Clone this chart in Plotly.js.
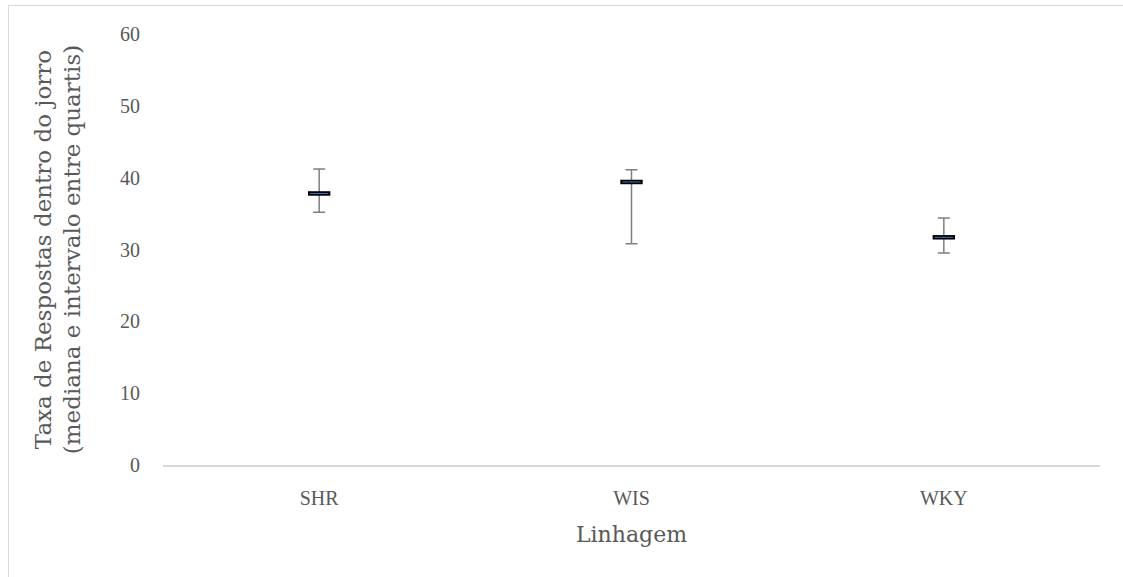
<!DOCTYPE html>
<html>
<head>
<meta charset="utf-8">
<script src="https://cdn.plot.ly/plotly-3.0.1.min.js"></script>
<style>
  html, body { margin: 0; padding: 0; background: #fff; }
  #wrap { position: relative; width: 1123px; height: 577px; }
  #chart { position: absolute; left: 0; top: 0; width: 1123px; height: 577px; }
  #frame { position: absolute; left: 8px; top: 5px; width: 1130px; height: 590px; border: 1px solid #d9d9d9; pointer-events: none; }
</style>
</head>
<body>
<div id="wrap">
  <div id="chart"></div>
  <div id="frame"></div>
</div>
<script>
const categories = ["SHR", "WIS", "WKY"];
const medians = [37.8, 39.4, 31.7];
const upperQuartiles = [41.2, 41.1, 34.4];
const lowerQuartiles = [35.2, 30.8, 29.5];
const yTickValues = [0, 10, 20, 30, 40, 50, 60];

const errPlus = medians.map((m, i) => upperQuartiles[i] - m);
const errMinus = medians.map((m, i) => m - lowerQuartiles[i]);

const tickFam = "Liberation Serif, DejaVu Serif, serif";
const titleFam = "DejaVu Serif, Liberation Serif, serif";
const textColor = "#595959";

const traces = [
  {
    type: "scatter", mode: "markers", x: categories, y: medians,
    error_y: { type: "data", symmetric: false, array: errPlus, arrayminus: errMinus,
               color: "#7f7f7f", thickness: 1.5, width: 6 },
    marker: { symbol: "line-ew-open", size: 16, color: "#000000", line: { color: "#000000", width: 4.5 } },
    hoverinfo: "skip", showlegend: false
  },
  {
    type: "scatter", mode: "markers", x: categories, y: medians,
    marker: { symbol: "line-ew-open", size: 13, color: "#4472c4", line: { color: "#4472c4", width: 1 } },
    hoverinfo: "skip", showlegend: false
  }
];

const layout = {
  width: 1123, height: 577,
  margin: { l: 163, r: 23, t: 34, b: 112 },
  paper_bgcolor: "#ffffff", plot_bgcolor: "#ffffff",
  font: { family: tickFam, color: textColor, size: 20 },
  showlegend: false,
  xaxis: {
    type: "category", range: [-0.5, 2.5],
    showline: true, linecolor: "#d9d9d9", linewidth: 1.5,
    showgrid: false, zeroline: false, ticks: "",
    ticklabelstandoff: 14,
    tickfont: { family: tickFam, color: textColor, size: 20 },
    title: { text: "Linhagem", font: { family: titleFam, color: textColor, size: 22 }, standoff: 19 }
  },
  yaxis: {
    range: [0, 60], tickvals: yTickValues, ticktext: yTickValues.map(String),
    showline: false, showgrid: false, zeroline: false, ticks: "",
    ticklabelstandoff: 22,
    tickfont: { family: tickFam, color: textColor, size: 20 },
    title: { text: "Taxa de Respostas dentro do jorro<br>(mediana e intervalo entre quartis)",
             font: { family: titleFam, color: textColor, size: 23 }, standoff: 32 }
  }
};

Plotly.newPlot("chart", traces, layout, { staticPlot: true, displayModeBar: false });
</script>
</body>
</html>
